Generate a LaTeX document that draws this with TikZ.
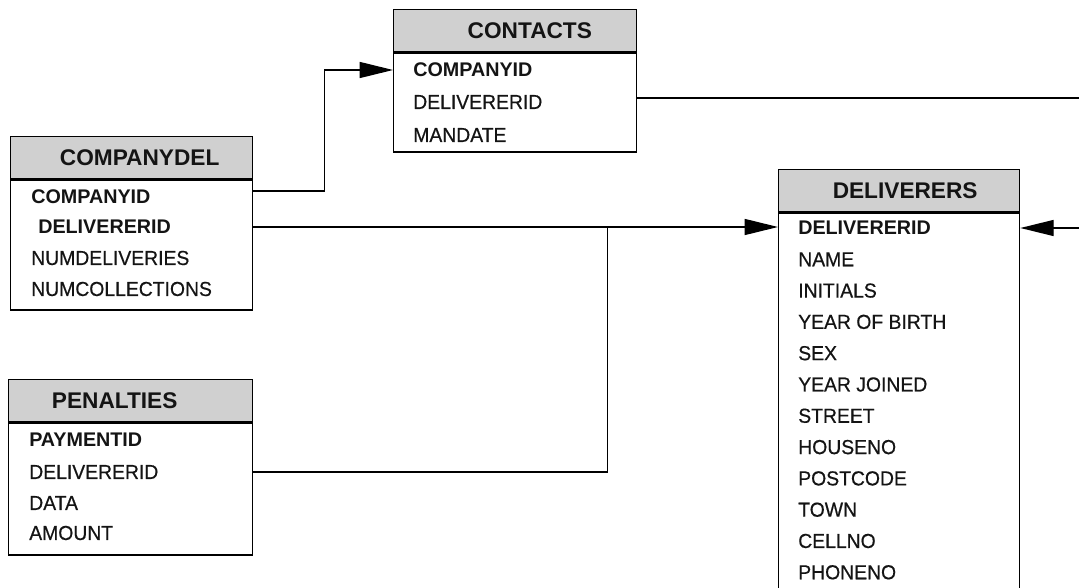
\documentclass[tikz,border=0pt]{standalone}
\usepackage{fontspec}
\setmainfont{Liberation Sans}
\newfontfamily\fieldfont{Liberation Sans}[FakeStretch=0.955,FakeBold=0.5]
\usetikzlibrary{positioning,fit,arrows.meta,calc}
\definecolor{headgray}{HTML}{D0D0D0}
\definecolor{inkdark}{HTML}{141414}

\tikzset{
  tabhead/.style={draw,fill=headgray,line width=1pt,inner sep=0pt,text=inkdark,
    anchor=north west,minimum height=31.5pt,font=\fontsize{17}{20}\selectfont\bfseries},
  tabbody/.style={draw,fill=white,line width=1pt,inner sep=0pt,anchor=north west},
  field/.style={anchor=west,inner sep=0pt,text=inkdark,font=\fieldfont\fontsize{15.2}{18}\selectfont},
  keyfield/.style={field,font=\fontsize{14.8}{17}\selectfont\bfseries},
  link/.style={line width=1pt},
  linkarrow/.style={link,-{Triangle[length=25pt,width=12pt]}},
}

\begin{document}
\begin{tikzpicture}[x=0.75pt,y=-0.75pt]
\useasboundingbox (0,0) rectangle (1079,588);

% CONTACTS
\node[tabhead,minimum width=182.25pt] (contH) at (393,9) {\hspace*{22pt}CONTACTS};
\node[tabbody,minimum width=182.25pt,minimum height=74.25pt] (cont) at (contH.south west) {};
\draw[line width=2pt] (contH.south west) -- (contH.south east);
\node[keyfield] (cont1) at (413,70) {COMPANYID};
\node[field] (cont2) at (413,102) {DELIVERERID};
\node[field] (cont3) at (413,135) {MANDATE};

% COMPANYDEL
\node[tabhead,minimum width=181.5pt] (cdelH) at (10,136) {\hspace*{12pt}COMPANYDEL};
\node[tabbody,minimum width=181.5pt,minimum height=97.5pt] (cdel) at (cdelH.south west) {};
\draw[line width=2pt] (cdelH.south west) -- (cdelH.south east);
\node[keyfield] (cdel1) at (31,197) {COMPANYID};
\node[keyfield] (cdel2) at (38,227) {DELIVERERID};
\node[field] (cdel3) at (31,258) {NUMDELIVERIES};
\node[field] (cdel4) at (31,289) {NUMCOLLECTIONS};

% PENALTIES
\node[tabhead,minimum width=183pt] (penH) at (8,379) {PENALTIES\hspace*{24pt}};
\node[tabbody,minimum width=183pt,minimum height=99pt] (pen) at (penH.south west) {};
\draw[line width=2pt] (penH.south west) -- (penH.south east);
\node[keyfield] (pen1) at (29,440) {PAYMENTID};
\node[field] (pen2) at (29,472) {DELIVERERID};
\node[field] (pen3) at (29,503) {DATA};
\node[field] (pen4) at (29,533) {AMOUNT};

% DELIVERERS
\node[tabhead,minimum width=180.75pt] (delH) at (778,169) {\hspace*{9pt}DELIVERERS};
\node[tabbody,minimum width=180.75pt,minimum height=300pt] (del) at (delH.south west) {};
\draw[line width=2pt] (delH.south west) -- (delH.south east);
\node[keyfield] (del0) at (798,228) {DELIVERERID};
\foreach \f [count=\i] in {NAME,INITIALS,YEAR OF BIRTH,SEX,YEAR JOINED,STREET,
    HOUSENO,POSTCODE,TOWN,CELLNO,PHONENO}
  \node[field] (del\i) at (798,228+31.3*\i) {\f};

% links
\draw[linkarrow] (cdel1 -| cdel.east) ++(0,-6) -- ++(71,0) |- (cont1 -| cont.west);
\draw[linkarrow] (cdel2 -| cdel.east) -- (cdel2 -| del.west);
\draw[link] (pen2 -| pen.east) -- ++(354,0) -- ++(0,-245);
\draw[linkarrow] (cont2 -| cont.east) ++(0,-4) -- ++(470,0) |- (del0 -| del.east);
\end{tikzpicture}
\end{document}
